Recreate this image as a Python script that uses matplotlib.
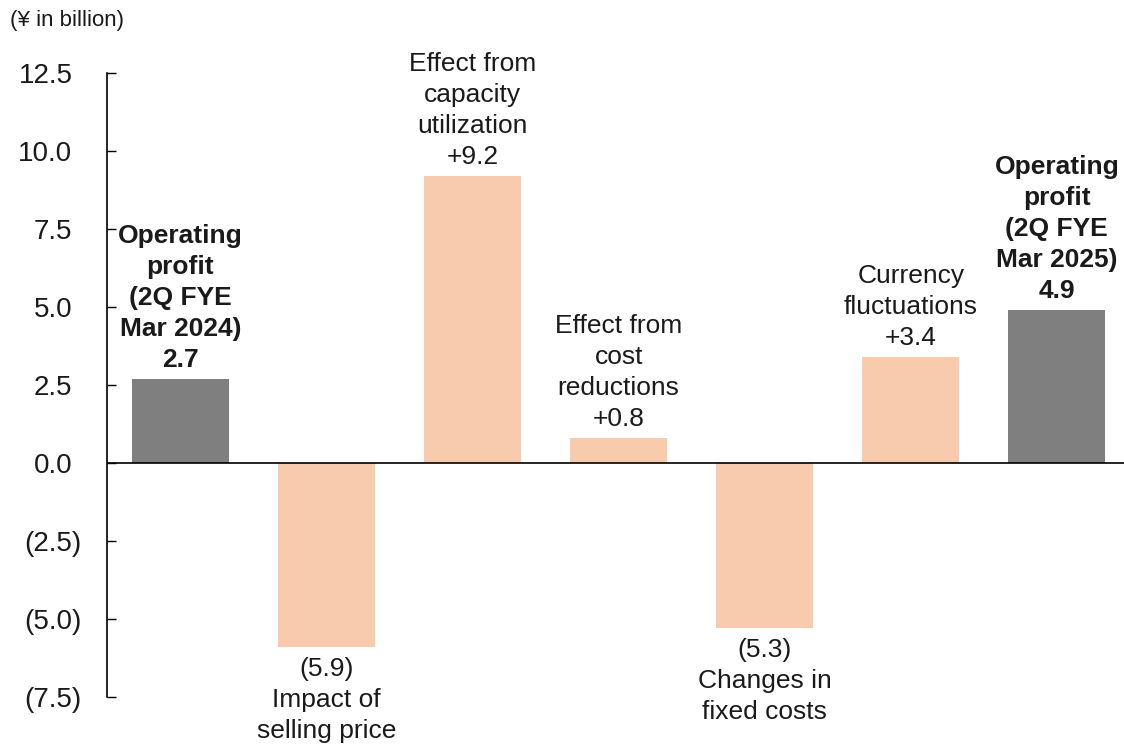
import matplotlib.pyplot as plt

plt.rcParams['font.family'] = ['Liberation Sans', 'DejaVu Sans']

# Data
categories = [
    "Operating\nprofit\n(2Q FYE\nMar 2024)",
    "Impact of\nselling price",
    "Effect from\ncapacity\nutilization",
    "Effect from\ncost\nreductions",
    "Changes in\nfixed costs",
    "Currency\nfluctuations",
    "Operating\nprofit\n(2Q FYE\nMar 2025)",
]
values = [2.7, -5.9, 9.2, 0.8, -5.3, 3.4, 4.9]
is_total = [True, False, False, False, False, False, True]
yticks = [12.5, 10.0, 7.5, 5.0, 2.5, 0.0, -2.5, -5.0, -7.5]

GRAY = '#7f7f7f'
PEACH = '#f8cbad'
TEXT = '#1a1a1a'


def fmt_val(v, total):
    if total:
        return f"{v:.1f}"
    if v < 0:
        return f"({abs(v):.1f})"
    return f"+{v:.1f}"


def fmt_tick(v):
    if v < 0:
        return f"({abs(v):.1f})"
    return f"{v:.1f}"


fig = plt.figure(figsize=(11.24, 7.51), dpi=100)
ax = fig.add_axes([0.0956, 0.0719, 0.9044, 0.8309])

x = list(range(len(values)))
colors = [GRAY if t else PEACH for t in is_total]
ax.bar(x, values, width=0.665, color=colors, zorder=2)
ax.axhline(0, color='black', linewidth=1.2, zorder=3)

ax.set_xlim(-0.5, 6.46)
ax.set_ylim(-7.5, 12.5)
ax.set_yticks(yticks)
ax.set_yticklabels([])
ax.tick_params(axis='y', direction='in', length=6.5, width=1)
ax.set_xticks([])
for s in ['top', 'right', 'bottom']:
    ax.spines[s].set_visible(False)
ax.spines['left'].set_linewidth(1.2)

# tick labels: accounting style, positives leave room for ")"
for v in yticks:
    off = -18.7 if v < 0 else -25.2
    ax.annotate(fmt_tick(v), (0, v), xycoords=ax.get_yaxis_transform(),
                xytext=(off, 0), textcoords='offset points',
                ha='right', va='center_baseline', fontsize=20, color=TEXT,
                annotation_clip=False)

for xi, v, cat, t in zip(x, values, categories, is_total):
    weight = 'bold' if t else 'normal'
    if v >= 0:
        txt = cat + "\n" + fmt_val(v, t)
        ax.annotate(txt, (xi, v), xytext=(0, 5), textcoords='offset points',
                    ha='center', va='bottom', fontsize=19, fontweight=weight,
                    linespacing=1.37, color=TEXT)
    else:
        txt = fmt_val(v, t) + "\n" + cat
        ax.annotate(txt, (xi, v), xytext=(0, -7), textcoords='offset points',
                    ha='center', va='top', fontsize=19, fontweight=weight,
                    linespacing=1.37, color=TEXT, annotation_clip=False)

fig.text(0.009, 0.973, "(¥ in billion)", fontsize=16, ha='left', va='center',
         color=TEXT)

fig.savefig('out.png', dpi=100, facecolor='white')
